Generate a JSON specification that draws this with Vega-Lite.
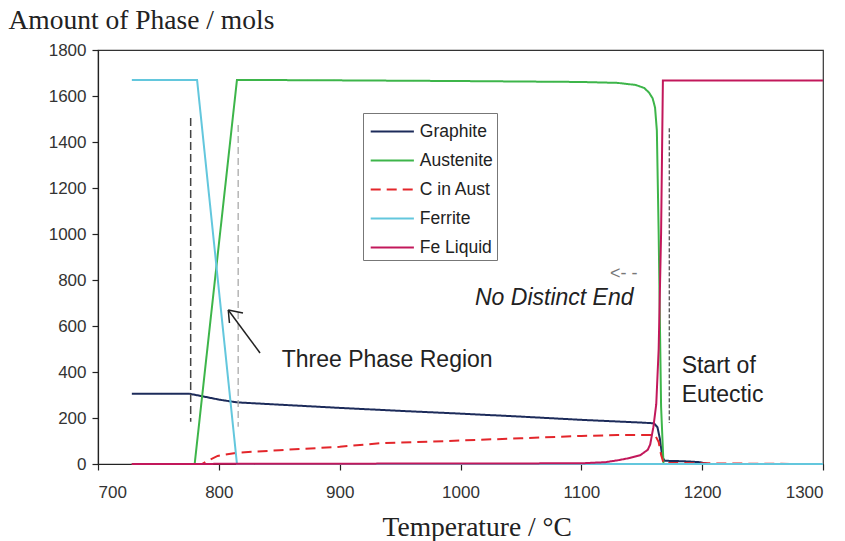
{
  "$schema": "https://vega.github.io/schema/vega-lite/v6.json",
  "width": 725,
  "height": 414,
  "autosize": {"type": "none"},
  "padding": {"left": 98, "top": 50, "right": 22, "bottom": 77},
  "background": "white",
  "config": {
    "view": {"stroke": "#333", "strokeWidth": 1.2},
    "axis": {
      "domainColor": "#222", "domainWidth": 1.2, "tickColor": "#222", "tickWidth": 1.2, "tickSize": 6,
      "labelFont": "Liberation Sans", "labelFontSize": 17, "labelColor": "#333", "grid": false,
      "titleFont": "Liberation Serif", "titleFontSize": 27.5, "titleFontWeight": "normal", "titleColor": "#222"
    },
    "legend": {
      "orient": "none", "legendX": 265, "legendY": 63, "title": null,
      "symbolType": "M-1.6,0H1.6", "symbolSize": 729, "symbolStrokeWidth": 2,
      "symbolOffset": 10.8, "labelOffset": 13,
      "labelFont": "Liberation Sans", "labelFontSize": 17.5, "labelColor": "#222",
      "strokeColor": "#777", "fillColor": "white", "padding": 4, "rowPadding": 6
    }
  },
  "layer": [
    {
      "data": {"values": [
        {"series": "Graphite", "T": 728, "mol": 305},
        {"series": "Graphite", "T": 776, "mol": 305},
        {"series": "Graphite", "T": 785, "mol": 296},
        {"series": "Graphite", "T": 800, "mol": 280},
        {"series": "Graphite", "T": 815, "mol": 268},
        {"series": "Graphite", "T": 850, "mol": 258},
        {"series": "Graphite", "T": 900, "mol": 244},
        {"series": "Graphite", "T": 950, "mol": 231},
        {"series": "Graphite", "T": 1000, "mol": 219},
        {"series": "Graphite", "T": 1050, "mol": 206},
        {"series": "Graphite", "T": 1100, "mol": 192},
        {"series": "Graphite", "T": 1150, "mol": 180},
        {"series": "Graphite", "T": 1160, "mol": 177},
        {"series": "Graphite", "T": 1163, "mol": 160},
        {"series": "Graphite", "T": 1165, "mol": 110},
        {"series": "Graphite", "T": 1167, "mol": 30},
        {"series": "Graphite", "T": 1169, "mol": 14},
        {"series": "Graphite", "T": 1185, "mol": 12},
        {"series": "Graphite", "T": 1198, "mol": 8},
        {"series": "Graphite", "T": 1205, "mol": 0},
        {"series": "Graphite", "T": 1300, "mol": 0},
        {"series": "Austenite", "T": 728, "mol": 0},
        {"series": "Austenite", "T": 780, "mol": 0},
        {"series": "Austenite", "T": 815, "mol": 1670},
        {"series": "Austenite", "T": 900, "mol": 1668},
        {"series": "Austenite", "T": 1000, "mol": 1665},
        {"series": "Austenite", "T": 1100, "mol": 1661},
        {"series": "Austenite", "T": 1130, "mol": 1657},
        {"series": "Austenite", "T": 1145, "mol": 1648},
        {"series": "Austenite", "T": 1152, "mol": 1635},
        {"series": "Austenite", "T": 1156, "mol": 1615},
        {"series": "Austenite", "T": 1159, "mol": 1590},
        {"series": "Austenite", "T": 1161, "mol": 1550},
        {"series": "Austenite", "T": 1162.5, "mol": 1450},
        {"series": "Austenite", "T": 1164, "mol": 1000},
        {"series": "Austenite", "T": 1166, "mol": 250},
        {"series": "Austenite", "T": 1168, "mol": 0},
        {"series": "Austenite", "T": 1300, "mol": 0},
        {"series": "C in Aust", "T": 728, "mol": 0},
        {"series": "C in Aust", "T": 786, "mol": 0},
        {"series": "C in Aust", "T": 790, "mol": 12},
        {"series": "C in Aust", "T": 799, "mol": 35},
        {"series": "C in Aust", "T": 815, "mol": 49},
        {"series": "C in Aust", "T": 850, "mol": 60},
        {"series": "C in Aust", "T": 900, "mol": 75},
        {"series": "C in Aust", "T": 933, "mol": 90},
        {"series": "C in Aust", "T": 1000, "mol": 102},
        {"series": "C in Aust", "T": 1050, "mol": 112},
        {"series": "C in Aust", "T": 1100, "mol": 122},
        {"series": "C in Aust", "T": 1130, "mol": 126},
        {"series": "C in Aust", "T": 1161, "mol": 126},
        {"series": "C in Aust", "T": 1164, "mol": 95},
        {"series": "C in Aust", "T": 1166, "mol": 40},
        {"series": "C in Aust", "T": 1168, "mol": 5},
        {"series": "C in Aust", "T": 1200, "mol": 3},
        {"series": "C in Aust", "T": 1283, "mol": 0},
        {"series": "Ferrite", "T": 728, "mol": 1670},
        {"series": "Ferrite", "T": 782, "mol": 1670},
        {"series": "Ferrite", "T": 815, "mol": 0},
        {"series": "Ferrite", "T": 1300, "mol": 0},
        {"series": "Fe Liquid", "T": 728, "mol": 0},
        {"series": "Fe Liquid", "T": 1100, "mol": 3},
        {"series": "Fe Liquid", "T": 1120, "mol": 8},
        {"series": "Fe Liquid", "T": 1130, "mol": 16},
        {"series": "Fe Liquid", "T": 1140, "mol": 26},
        {"series": "Fe Liquid", "T": 1149, "mol": 39},
        {"series": "Fe Liquid", "T": 1155, "mol": 62},
        {"series": "Fe Liquid", "T": 1157, "mol": 85},
        {"series": "Fe Liquid", "T": 1159.6, "mol": 160},
        {"series": "Fe Liquid", "T": 1162, "mol": 260},
        {"series": "Fe Liquid", "T": 1164, "mol": 500},
        {"series": "Fe Liquid", "T": 1166, "mol": 1000},
        {"series": "Fe Liquid", "T": 1167.5, "mol": 1667},
        {"series": "Fe Liquid", "T": 1300, "mol": 1667}
      ]},
      "mark": {"type": "line", "strokeWidth": 2},
      "encoding": {
        "x": {"field": "T", "type": "quantitative",
              "scale": {"domain": [700, 1300], "nice": false, "zero": false},
              "axis": {"title": "Temperature / °C", "values": [700, 800, 900, 1000, 1100, 1200, 1300], "format": "d",
                       "labelPadding": 14, "titleX": 378.7, "titleY": 71, "titleAlign": "center", "titleBaseline": "alphabetic"}},
        "y": {"field": "mol", "type": "quantitative",
              "scale": {"domain": [0, 1800], "nice": false},
              "axis": {"title": "Amount of Phase / mols", "values": [0, 200, 400, 600, 800, 1000, 1200, 1400, 1600, 1800], "format": "d",
                       "labelPadding": 6, "titleAngle": 0, "titleX": -90, "titleY": -22, "titleAlign": "left", "titleBaseline": "alphabetic"}},
        "color": {"field": "series", "type": "nominal",
                  "scale": {"domain": ["Graphite", "Austenite", "C in Aust", "Ferrite", "Fe Liquid"],
                            "range": ["#1c2b5a", "#3db54a", "#e3262b", "#63c7dd", "#c2185b"]}},
        "strokeDash": {"field": "series", "type": "nominal",
                       "scale": {"domain": ["Graphite", "Austenite", "C in Aust", "Ferrite", "Fe Liquid"],
                                 "range": [[1, 0], [1, 0], [10, 6], [1, 0], [1, 0]]}}
      }
    },
    {
      "data": {"values": [{"T": 776.7, "mol": 1504, "mol2": 184}]},
      "mark": {"type": "rule", "color": "#444", "strokeDash": [8, 4], "strokeWidth": 1.5},
      "encoding": {"x": {"field": "T", "type": "quantitative"}, "y": {"field": "mol", "type": "quantitative"}, "y2": {"field": "mol2"}}
    },
    {
      "data": {"values": [{"T": 816, "mol": 1474, "mol2": 162}]},
      "mark": {"type": "rule", "color": "#aaa", "strokeDash": [7, 4], "strokeWidth": 1.3},
      "encoding": {"x": {"field": "T", "type": "quantitative"}, "y": {"field": "mol", "type": "quantitative"}, "y2": {"field": "mol2"}}
    },
    {
      "data": {"values": [{"T": 1172.8, "mol": 1460, "mol2": 178}]},
      "mark": {"type": "rule", "color": "#555", "strokeDash": [4, 2], "strokeWidth": 1.3},
      "encoding": {"x": {"field": "T", "type": "quantitative"}, "y": {"field": "mol", "type": "quantitative"}, "y2": {"field": "mol2"}}
    },
    {
      "data": {"values": [
        {"T": 834.1, "mol": 482.6, "T2": 807.8, "mol2": 669.6},
        {"T": 820, "mol": 656.5, "T2": 807.8, "mol2": 669.6},
        {"T": 808.8, "mol": 613, "T2": 807.8, "mol2": 669.6}
      ]},
      "mark": {"type": "rule", "color": "#222", "strokeWidth": 1.5},
      "encoding": {"x": {"field": "T", "type": "quantitative"}, "y": {"field": "mol", "type": "quantitative"},
                   "x2": {"field": "T2"}, "y2": {"field": "mol2"}}
    },
    {
      "data": {"values": [
        {"T": 852, "mol": 420, "label": "Three Phase Region"},
        {"T": 1183, "mol": 394, "label": "Start of"},
        {"T": 1183, "mol": 268, "label": "Eutectic"}
      ]},
      "mark": {"type": "text", "align": "left", "baseline": "alphabetic", "font": "Liberation Sans", "fontSize": 23, "color": "#222"},
      "encoding": {"x": {"field": "T", "type": "quantitative"}, "y": {"field": "mol", "type": "quantitative"}, "text": {"field": "label"}}
    },
    {
      "data": {"values": [{"T": 1012, "mol": 691, "label": "No Distinct End"}]},
      "mark": {"type": "text", "align": "left", "baseline": "alphabetic", "font": "Liberation Sans", "fontSize": 23, "fontStyle": "italic", "color": "#222"},
      "encoding": {"x": {"field": "T", "type": "quantitative"}, "y": {"field": "mol", "type": "quantitative"}, "text": {"field": "label"}}
    },
    {
      "data": {"values": [{"T": 1123.7, "mol": 826, "label": "<- -"}]},
      "mark": {"type": "text", "align": "left", "baseline": "middle", "font": "Liberation Sans", "fontSize": 18, "color": "#777"},
      "encoding": {"x": {"field": "T", "type": "quantitative"}, "y": {"field": "mol", "type": "quantitative"}, "text": {"field": "label"}}
    }
  ]
}
